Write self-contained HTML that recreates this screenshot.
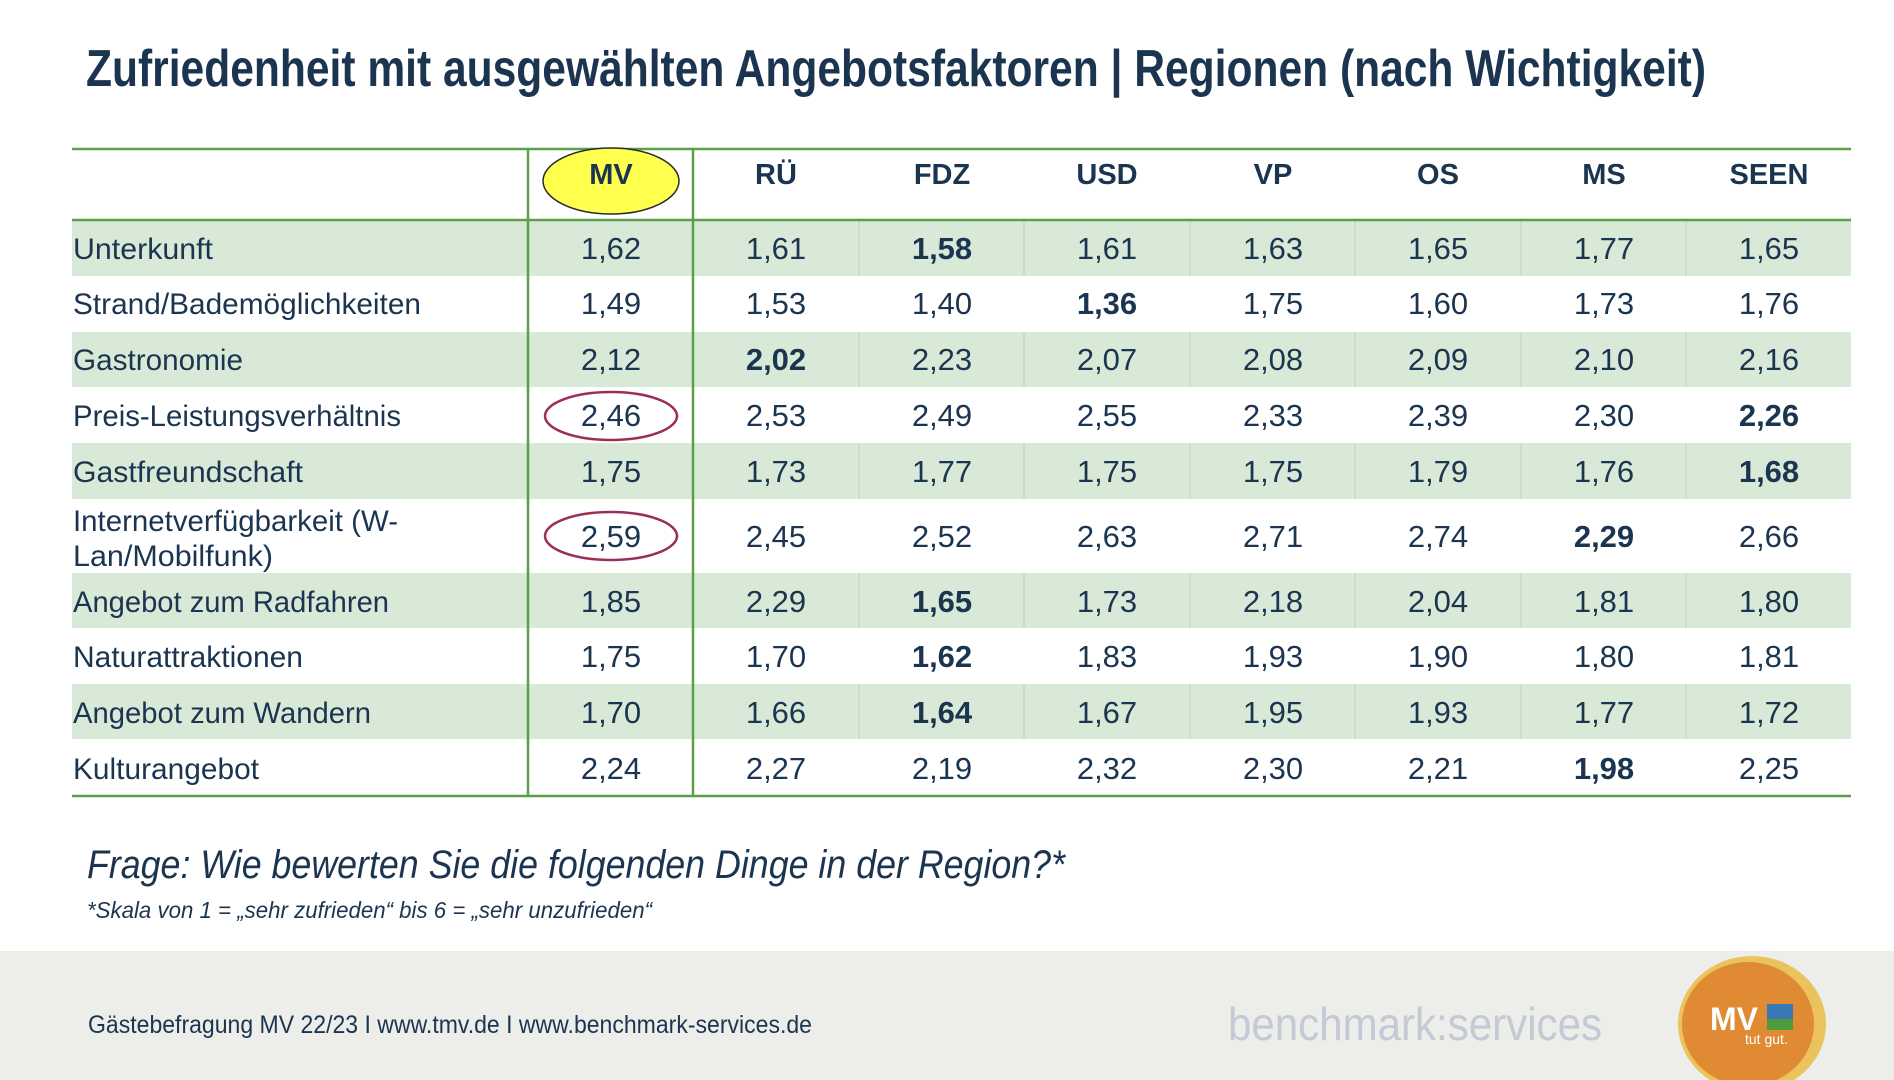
<!DOCTYPE html>
<html><head><meta charset="utf-8"><style>
html,body{margin:0;padding:0;background:#fff;}
svg{display:block;font-family:"Liberation Sans",sans-serif;}
</style></head><body>
<svg width="1894" height="1080" viewBox="0 0 1894 1080" xmlns="http://www.w3.org/2000/svg">
<rect width="1894" height="1080" fill="#fff"/>
<text x="86" y="86" font-size="52" font-weight="bold" fill="#1b3550" textLength="1620" lengthAdjust="spacingAndGlyphs">Zufriedenheit mit ausgewählten Angebotsfaktoren | Regionen (nach Wichtigkeit)</text>
<g fill="#d9e9d7">
<rect x="72" y="221" width="1779" height="55"/>
<rect x="72" y="332" width="1779" height="55"/>
<rect x="72" y="443" width="1779" height="56"/>
<rect x="72" y="573" width="1779" height="55"/>
<rect x="72" y="684" width="1779" height="55"/>
</g>
<g stroke="#c2dcc0" stroke-width="1.5">
<line x1="859" y1="221" x2="859" y2="276"/><line x1="1024" y1="221" x2="1024" y2="276"/><line x1="1190" y1="221" x2="1190" y2="276"/><line x1="1355" y1="221" x2="1355" y2="276"/><line x1="1521" y1="221" x2="1521" y2="276"/><line x1="1686" y1="221" x2="1686" y2="276"/>
<line x1="859" y1="332" x2="859" y2="387"/><line x1="1024" y1="332" x2="1024" y2="387"/><line x1="1190" y1="332" x2="1190" y2="387"/><line x1="1355" y1="332" x2="1355" y2="387"/><line x1="1521" y1="332" x2="1521" y2="387"/><line x1="1686" y1="332" x2="1686" y2="387"/>
<line x1="859" y1="443" x2="859" y2="499"/><line x1="1024" y1="443" x2="1024" y2="499"/><line x1="1190" y1="443" x2="1190" y2="499"/><line x1="1355" y1="443" x2="1355" y2="499"/><line x1="1521" y1="443" x2="1521" y2="499"/><line x1="1686" y1="443" x2="1686" y2="499"/>
<line x1="859" y1="573" x2="859" y2="628"/><line x1="1024" y1="573" x2="1024" y2="628"/><line x1="1190" y1="573" x2="1190" y2="628"/><line x1="1355" y1="573" x2="1355" y2="628"/><line x1="1521" y1="573" x2="1521" y2="628"/><line x1="1686" y1="573" x2="1686" y2="628"/>
<line x1="859" y1="684" x2="859" y2="739"/><line x1="1024" y1="684" x2="1024" y2="739"/><line x1="1190" y1="684" x2="1190" y2="739"/><line x1="1355" y1="684" x2="1355" y2="739"/><line x1="1521" y1="684" x2="1521" y2="739"/><line x1="1686" y1="684" x2="1686" y2="739"/>
</g>
<g stroke="#5b9f4b" stroke-width="2.5">
<line x1="72" y1="149" x2="1851" y2="149"/>
<line x1="72" y1="220" x2="1851" y2="220"/>
<line x1="72" y1="796" x2="1851" y2="796"/>
<line x1="528" y1="149" x2="528" y2="796"/>
<line x1="693" y1="149" x2="693" y2="796"/>
</g>
<ellipse cx="611" cy="181" rx="68" ry="33" fill="#ffff4d" stroke="#2a2a2a" stroke-width="1.5"/>
<ellipse cx="611" cy="416" rx="66" ry="24" fill="none" stroke="#9c2f55" stroke-width="2.5"/>
<ellipse cx="611" cy="536" rx="66" ry="24" fill="none" stroke="#9c2f55" stroke-width="2.5"/>
<g font-size="29" font-weight="bold" fill="#1b3550" text-anchor="middle">
<text x="611" y="184">MV</text><text x="776" y="184">RÜ</text><text x="942" y="184">FDZ</text><text x="1107" y="184">USD</text><text x="1273" y="184">VP</text><text x="1438" y="184">OS</text><text x="1604" y="184">MS</text><text x="1769" y="184">SEEN</text>
</g>
<g font-size="30" fill="#1b3550">
<text x="73" y="259" textLength="140" lengthAdjust="spacingAndGlyphs">Unterkunft</text>
<text x="73" y="314" textLength="348" lengthAdjust="spacingAndGlyphs">Strand/Bademöglichkeiten</text>
<text x="73" y="370" textLength="170" lengthAdjust="spacingAndGlyphs">Gastronomie</text>
<text x="73" y="426" textLength="328" lengthAdjust="spacingAndGlyphs">Preis-Leistungsverhältnis</text>
<text x="73" y="482" textLength="230" lengthAdjust="spacingAndGlyphs">Gastfreundschaft</text>
<text x="73" y="531" textLength="325" lengthAdjust="spacingAndGlyphs">Internetverfügbarkeit (W-</text>
<text x="73" y="566" textLength="200" lengthAdjust="spacingAndGlyphs">Lan/Mobilfunk)</text>
<text x="73" y="612" textLength="316" lengthAdjust="spacingAndGlyphs">Angebot zum Radfahren</text>
<text x="73" y="667" textLength="230" lengthAdjust="spacingAndGlyphs">Naturattraktionen</text>
<text x="73" y="723" textLength="298" lengthAdjust="spacingAndGlyphs">Angebot zum Wandern</text>
<text x="73" y="779" textLength="186" lengthAdjust="spacingAndGlyphs">Kulturangebot</text>
</g>
<g font-size="31" fill="#1b3550" text-anchor="middle">
<text x="611" y="259">1,62</text><text x="776" y="259">1,61</text><text x="942" y="259" font-weight="bold">1,58</text><text x="1107" y="259">1,61</text><text x="1273" y="259">1,63</text><text x="1438" y="259">1,65</text><text x="1604" y="259">1,77</text><text x="1769" y="259">1,65</text>
<text x="611" y="314">1,49</text><text x="776" y="314">1,53</text><text x="942" y="314">1,40</text><text x="1107" y="314" font-weight="bold">1,36</text><text x="1273" y="314">1,75</text><text x="1438" y="314">1,60</text><text x="1604" y="314">1,73</text><text x="1769" y="314">1,76</text>
<text x="611" y="370">2,12</text><text x="776" y="370" font-weight="bold">2,02</text><text x="942" y="370">2,23</text><text x="1107" y="370">2,07</text><text x="1273" y="370">2,08</text><text x="1438" y="370">2,09</text><text x="1604" y="370">2,10</text><text x="1769" y="370">2,16</text>
<text x="611" y="426">2,46</text><text x="776" y="426">2,53</text><text x="942" y="426">2,49</text><text x="1107" y="426">2,55</text><text x="1273" y="426">2,33</text><text x="1438" y="426">2,39</text><text x="1604" y="426">2,30</text><text x="1769" y="426" font-weight="bold">2,26</text>
<text x="611" y="482">1,75</text><text x="776" y="482">1,73</text><text x="942" y="482">1,77</text><text x="1107" y="482">1,75</text><text x="1273" y="482">1,75</text><text x="1438" y="482">1,79</text><text x="1604" y="482">1,76</text><text x="1769" y="482" font-weight="bold">1,68</text>
<text x="611" y="547">2,59</text><text x="776" y="547">2,45</text><text x="942" y="547">2,52</text><text x="1107" y="547">2,63</text><text x="1273" y="547">2,71</text><text x="1438" y="547">2,74</text><text x="1604" y="547" font-weight="bold">2,29</text><text x="1769" y="547">2,66</text>
<text x="611" y="612">1,85</text><text x="776" y="612">2,29</text><text x="942" y="612" font-weight="bold">1,65</text><text x="1107" y="612">1,73</text><text x="1273" y="612">2,18</text><text x="1438" y="612">2,04</text><text x="1604" y="612">1,81</text><text x="1769" y="612">1,80</text>
<text x="611" y="667">1,75</text><text x="776" y="667">1,70</text><text x="942" y="667" font-weight="bold">1,62</text><text x="1107" y="667">1,83</text><text x="1273" y="667">1,93</text><text x="1438" y="667">1,90</text><text x="1604" y="667">1,80</text><text x="1769" y="667">1,81</text>
<text x="611" y="723">1,70</text><text x="776" y="723">1,66</text><text x="942" y="723" font-weight="bold">1,64</text><text x="1107" y="723">1,67</text><text x="1273" y="723">1,95</text><text x="1438" y="723">1,93</text><text x="1604" y="723">1,77</text><text x="1769" y="723">1,72</text>
<text x="611" y="779">2,24</text><text x="776" y="779">2,27</text><text x="942" y="779">2,19</text><text x="1107" y="779">2,32</text><text x="1273" y="779">2,30</text><text x="1438" y="779">2,21</text><text x="1604" y="779" font-weight="bold">1,98</text><text x="1769" y="779">2,25</text>
</g>
<text x="87" y="878" font-size="40" font-style="italic" fill="#1b3550" textLength="978" lengthAdjust="spacingAndGlyphs">Frage: Wie bewerten Sie die folgenden Dinge in der Region?*</text>
<text x="87" y="918" font-size="23" font-style="italic" fill="#1b3550" textLength="565" lengthAdjust="spacingAndGlyphs">*Skala von 1 = „sehr zufrieden“ bis  6 = „sehr unzufrieden“</text>
<rect x="0" y="951" width="1894" height="129" fill="#ededea"/>
<text x="88" y="1033" font-size="25" fill="#1b3550" textLength="724" lengthAdjust="spacingAndGlyphs">Gästebefragung MV 22/23  I  www.tmv.de  I www.benchmark-services.de</text>
<text x="1228" y="1040" font-size="46" fill="#c3cad6" textLength="374" lengthAdjust="spacingAndGlyphs">benchmark:services</text>
<ellipse cx="1752" cy="1024" rx="74" ry="68" fill="#e8b83c" opacity="0.8"/>
<ellipse cx="1748" cy="1024" rx="66" ry="62" fill="#e08a33"/>
<text x="1710" y="1030" font-size="32" font-weight="bold" fill="#fff">MV</text>
<rect x="1767" y="1004" width="26" height="26" fill="#3a77b5"/>
<rect x="1767" y="1019" width="26" height="11" fill="#4f9a3d"/>
<text x="1745" y="1044" font-size="14" fill="#fff">tut gut.</text>
</svg>
</body></html>
